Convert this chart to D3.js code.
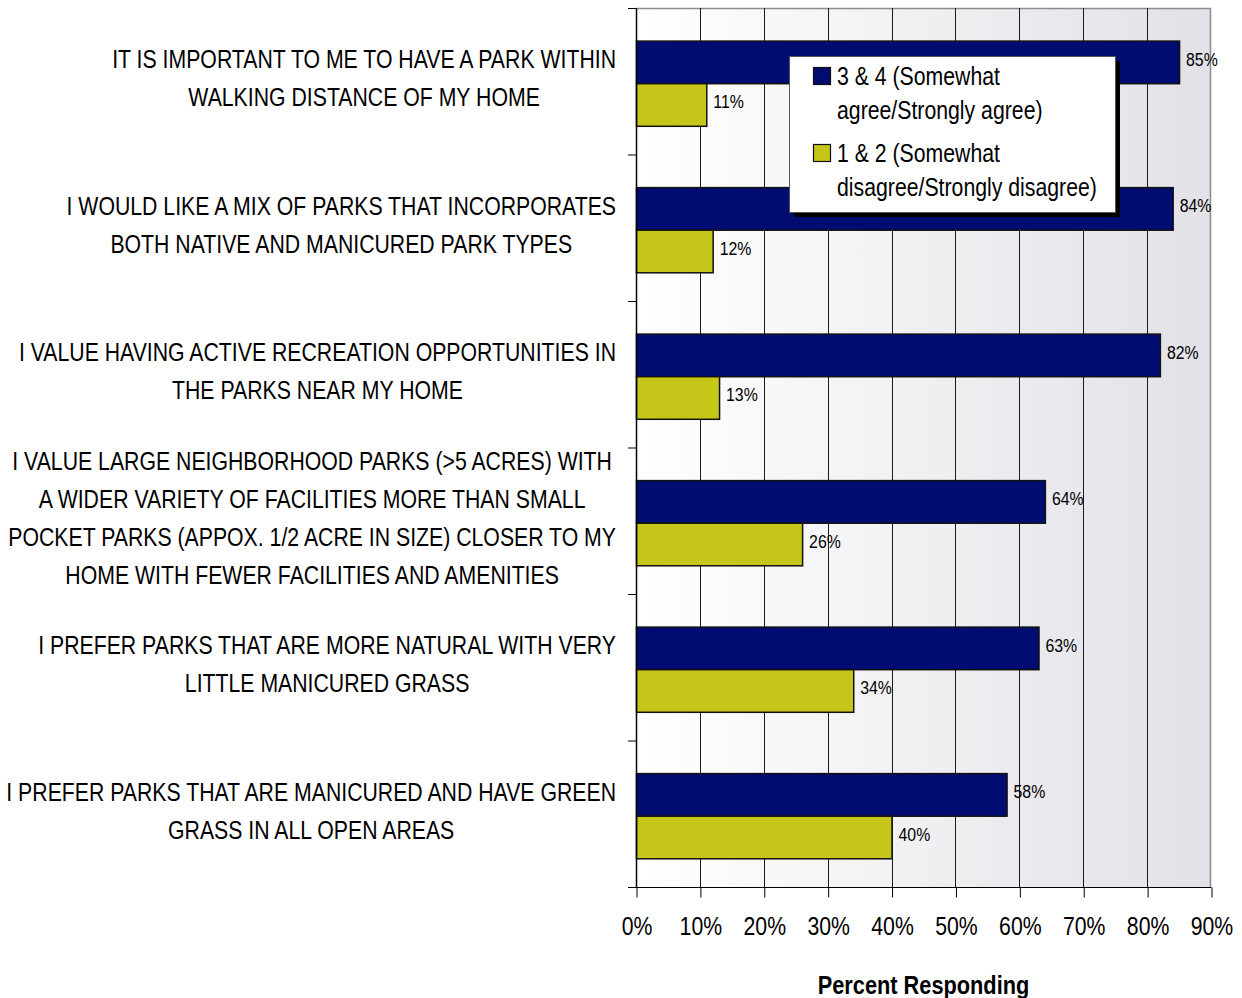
<!DOCTYPE html>
<html>
<head>
<meta charset="utf-8">
<script src="https://cdn.jsdelivr.net/npm/d3@7"></script>
<style>
  html, body { margin: 0; padding: 0; background: #ffffff; }
  svg text { font-family: "Liberation Sans", Arial, sans-serif; fill: #000; }
</style>
</head>
<body>
<svg id="chart" width="1242" height="998"></svg>
<script>
// Survey statements (wrapped as they appear on the axis)
const categories = [
  ["IT IS IMPORTANT TO ME TO HAVE A PARK WITHIN", "WALKING DISTANCE OF MY HOME"],
  ["I WOULD LIKE A MIX OF PARKS THAT INCORPORATES", "BOTH NATIVE AND MANICURED PARK TYPES"],
  ["I VALUE HAVING ACTIVE RECREATION OPPORTUNITIES IN", "THE PARKS NEAR MY HOME"],
  ["I VALUE LARGE NEIGHBORHOOD PARKS (>5 ACRES) WITH", "A WIDER VARIETY OF FACILITIES MORE THAN SMALL",
   "POCKET PARKS (APPOX. 1/2 ACRE IN SIZE) CLOSER TO MY", "HOME WITH FEWER FACILITIES AND AMENITIES"],
  ["I PREFER PARKS THAT ARE MORE NATURAL WITH VERY", "LITTLE MANICURED GRASS"],
  ["I PREFER PARKS THAT ARE MANICURED AND HAVE GREEN", "GRASS IN ALL OPEN AREAS"]
];

const seriesNames = [
  ["3 & 4 (Somewhat", "agree/Strongly agree)"],
  ["1 & 2 (Somewhat", "disagree/Strongly disagree)"]
];
const agreeValues = [85, 84, 82, 64, 63, 58];
const disagreeValues = [11, 12, 13, 26, 34, 40];
const seriesColors = ["#000c72", "#c6c61a"];
const tickValues = [0, 10, 20, 30, 40, 50, 60, 70, 80, 90];
const tickLabels = ["0%", "10%", "20%", "30%", "40%", "50%", "60%", "70%", "80%", "90%"];
const axisTitle = "Percent Responding";

// Condensed lettering: squeeze each text to a fraction of its natural width
function narrow(sel, factor) {
  sel.each(function () {
    const w = this.getComputedTextLength();
    d3.select(this).attr("textLength", w * factor).attr("lengthAdjust", "spacingAndGlyphs");
  });
  return sel;
}
const NARROW = 0.85;

const svg = d3.select("#chart");
const plot = { left: 636, right: 1211, top: 8, bottom: 887 };

const x = d3.scaleLinear().domain([0, 90]).range([plot.left, plot.right]);
const y = d3.scaleBand().domain(d3.range(categories.length)).range([plot.top, plot.bottom]);
const ySub = d3.scaleBand().domain([0, 1]).range([0, y.bandwidth()])
  .paddingInner(0).paddingOuter(0.72).align(0.54);

// Plot background: white fading to a pale grey on the right
const defs = svg.append("defs");
const grad = defs.append("linearGradient").attr("id", "bg").attr("x1", "0").attr("x2", "1").attr("y1", "0").attr("y2", "0");
grad.append("stop").attr("offset", "0%").attr("stop-color", "#ffffff");
grad.append("stop").attr("offset", "100%").attr("stop-color", "#e1e1e7");

svg.append("rect")
  .attr("x", plot.left).attr("y", plot.top)
  .attr("width", plot.right - plot.left).attr("height", plot.bottom - plot.top)
  .attr("fill", "url(#bg)");

// Frame on top and right
svg.append("path")
  .attr("d", `M${plot.left},${plot.top + 0.5}H${plot.right - 0.5}V${plot.bottom}`)
  .attr("fill", "none").attr("stroke", "#8c8c8c").attr("stroke-width", 1.5);

// Vertical gridlines
svg.append("g").selectAll("line")
  .data(tickValues.filter(v => v > 0 && v < 90))
  .join("line")
  .attr("x1", d => Math.round(x(d)) + 0.5).attr("x2", d => Math.round(x(d)) + 0.5)
  .attr("y1", plot.top).attr("y2", plot.bottom)
  .attr("stroke", "#1a1a1a").attr("stroke-width", 1);

// Bottom axis
const xAxis = d3.axisBottom(x).tickValues(tickValues).tickFormat((d, i) => tickLabels[i])
  .tickSizeInner(10).tickSizeOuter(0).tickPadding(20);
const gx = svg.append("g").attr("transform", `translate(0.5,${plot.bottom + 0.5})`).call(xAxis);
gx.select(".domain").attr("stroke", "#000").attr("d", `M${plot.left - 8},0H${plot.right}`);
gx.selectAll(".tick line").attr("stroke", "#000");
gx.selectAll(".tick text").attr("font-size", 25).attr("fill", "#000")
  .style("font-family", '"Liberation Sans", Arial, sans-serif');
narrow(gx.selectAll(".tick text"), NARROW);

narrow(svg.append("text")
  .attr("x", (plot.left + plot.right) / 2).attr("y", 994)
  .attr("text-anchor", "middle").attr("font-size", 25).attr("font-weight", "bold")
  .text(axisTitle), 0.87);

// Bars
const groups = svg.append("g").selectAll("g")
  .data(categories.map((c, i) => ({ i, vals: [agreeValues[i], disagreeValues[i]] })))
  .join("g")
  .attr("transform", d => `translate(0,${y(d.i)})`);

groups.selectAll("rect")
  .data(d => d.vals.map((v, s) => ({ v, s })))
  .join("rect")
  .attr("x", x(0) + 0.5)
  .attr("y", d => ySub(d.s))
  .attr("width", d => x(d.v) - x(0))
  .attr("height", ySub.bandwidth())
  .attr("fill", d => seriesColors[d.s])
  .attr("stroke", "#111").attr("stroke-width", 1.5);

narrow(groups.selectAll("text.val")
  .data(d => d.vals.map((v, s) => ({ v, s })))
  .join("text")
  .attr("class", "val")
  .attr("x", d => x(d.v) + 7)
  .attr("y", d => ySub(d.s) + ySub.bandwidth() / 2 - 3)
  .attr("dy", "0.35em")
  .attr("font-size", 18)
  .text(d => d.v + "%"), 0.88);

// Left axis with category boundary ticks
const gy = svg.append("g");
gy.append("line")
  .attr("x1", plot.left + 0.5).attr("x2", plot.left + 0.5)
  .attr("y1", plot.top).attr("y2", plot.bottom)
  .attr("stroke", "#000").attr("stroke-width", 1.5);
gy.selectAll("line.tk")
  .data(d3.range(categories.length + 1))
  .join("line").attr("class", "tk")
  .attr("x1", plot.left - 8).attr("x2", plot.left)
  .attr("y1", d => (d < categories.length ? y(d) : plot.bottom) + 0.5)
  .attr("y2", d => (d < categories.length ? y(d) : plot.bottom) + 0.5)
  .attr("stroke", "#000");

// Category labels: each block centered on its longest line, right edge near the axis
const labelRight = 616;
const lineGap = 38;
categories.forEach((lines, i) => {
  const g = svg.append("g");
  const cy = y(i) + y.bandwidth() / 2 - 3;
  const texts = lines.map((ln, k) => g.append("text")
    .attr("y", cy + (k - (lines.length - 1) / 2) * lineGap)
    .attr("dy", "0.35em")
    .attr("font-size", 25)
    .attr("text-anchor", "middle")
    .text(ln));
  texts.forEach(t => narrow(t, NARROW));
  const maxW = d3.max(texts, t => +t.attr("textLength"));
  texts.forEach(t => t.attr("x", labelRight - maxW / 2));
});

// Legend
const lg = svg.append("g").attr("transform", "translate(789,56)");
lg.append("rect").attr("x", 5).attr("y", 5).attr("width", 326).attr("height", 156).attr("fill", "#000");
lg.append("rect").attr("x", 0.5).attr("y", 0.5).attr("width", 326).attr("height", 156)
  .attr("fill", "#ffffff").attr("stroke", "#555").attr("stroke-width", 1);
seriesNames.forEach((nm, s) => {
  const top = 11 + s * 77;
  lg.append("rect").attr("x", 24.5).attr("y", top + 0.5).attr("width", 17).attr("height", 17)
    .attr("fill", seriesColors[s]).attr("stroke", "#111").attr("stroke-width", 1.2);
  nm.forEach((ln, k) => {
    narrow(lg.append("text").attr("x", 48).attr("y", top + 9 + k * 34).attr("dy", "0.35em")
      .attr("font-size", 25).text(ln), NARROW);
  });
});
</script>
</body>
</html>
